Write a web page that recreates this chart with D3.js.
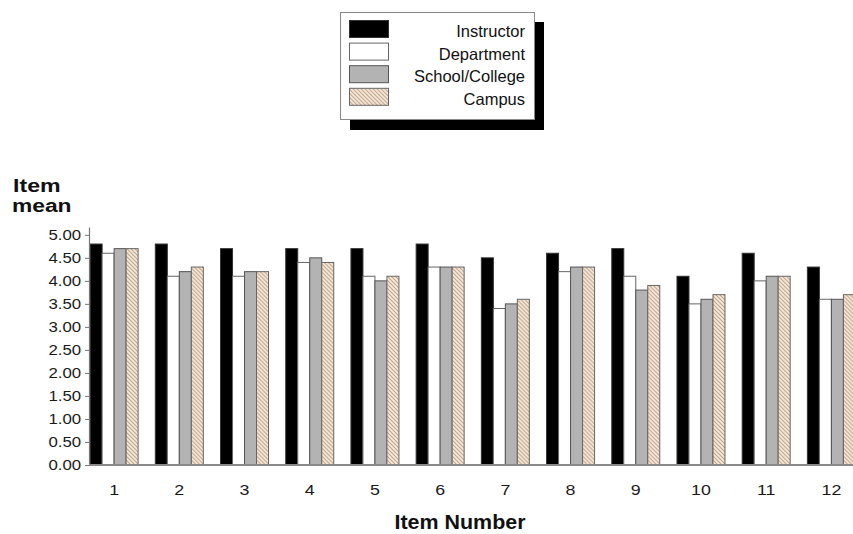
<!DOCTYPE html>
<html>
<head>
<meta charset="utf-8">
<script src="https://cdn.jsdelivr.net/npm/d3@7"></script>
<style>
  html, body { margin: 0; padding: 0; background: #fff; }
  svg { display: block; font-family: "Liberation Sans", Arial, sans-serif; }
</style>
</head>
<body>
<svg id="chart" width="853" height="534"></svg>
<script>
// ---- data ----
const items = ["1","2","3","4","5","6","7","8","9","10","11","12"];
const seriesNames = ["Instructor","Department","School/College","Campus"];
const instructor = [4.8,4.8,4.7,4.7,4.7,4.8,4.5,4.6,4.7,4.1,4.6,4.3];
const department = [4.6,4.1,4.1,4.4,4.1,4.3,3.4,4.2,4.1,3.5,4.0,3.6];
const school     = [4.7,4.2,4.2,4.5,4.0,4.3,3.5,4.3,3.8,3.6,4.1,3.6];
const campus     = [4.7,4.3,4.2,4.4,4.1,4.3,3.6,4.3,3.9,3.7,4.1,3.7];
const yTicks = [0,0.5,1,1.5,2,2.5,3,3.5,4,4.5,5];
const yTitle = ["Item","mean"];
const xTitle = "Item Number";

const seriesValues = [instructor, department, school, campus];

const svg = d3.select("#chart");
const W = 853;

// patterns
const defs = svg.append("defs");
const pat = defs.append("pattern").attr("id","hatch").attr("patternUnits","userSpaceOnUse")
  .attr("width",4).attr("height",4);
pat.append("rect").attr("width",4).attr("height",4).attr("fill","#f5ede2");
pat.append("path").attr("d","M-1,-1 L5,5 M-1,3 L1,5 M3,-1 L5,1")
  .attr("stroke","#c4a080").attr("stroke-width",1.1);

const fills = ["#000000","#ffffff","#b3b3b3","url(#hatch)"];
const strokes = ["#333333","#666666","#555555","#666666"];

// scales
const axisX = 89;
const y = d3.scaleLinear().domain([0, 5.17]).range([465, 227]);
const x0 = d3.scaleBand().domain(items).range([81.5, 864]).paddingInner(0.264).paddingOuter(0.132);
const x1 = d3.scaleBand().domain(seriesNames).range([0, x0.bandwidth()]).padding(0);

// bars
const groups = svg.append("g").selectAll("g").data(items).join("g")
  .attr("transform", d => `translate(${x0(d)},0)`);
groups.selectAll("rect")
  .data((d, i) => seriesNames.map((s, k) => ({s, k, v: seriesValues[k][i]})))
  .join("rect")
  .attr("x", d => x1(d.s))
  .attr("y", d => y(d.v))
  .attr("width", x1.bandwidth())
  .attr("height", d => y(0) - y(d.v))
  .attr("fill", d => fills[d.k])
  .attr("stroke", d => strokes[d.k])
  .attr("stroke-width", 1);

// y axis
const yAxis = svg.append("g").attr("transform", `translate(${axisX},0)`)
  .call(d3.axisLeft(y).tickValues(yTicks).tickFormat(d3.format(".2f")).tickSize(4).tickSizeOuter(0));
yAxis.select(".domain").attr("stroke","#777").attr("stroke-width",1.2);
yAxis.selectAll(".tick line").attr("stroke","#777");
yAxis.selectAll(".tick text")
  .attr("font-size", 14).attr("font-family","Liberation Sans, Arial, sans-serif")
  .attr("fill","#1a1a1a")
  .attr("x", -6.5)
  .attr("transform","scale(1.2,1)");

// x axis baseline
svg.append("line").attr("x1", axisX).attr("x2", W).attr("y1", y(0)).attr("y2", y(0))
  .attr("stroke","#8a8a8a").attr("stroke-width",2);

// x axis labels
const xAxis = svg.append("g").attr("transform", `translate(0,${y(0)})`)
  .call(d3.axisBottom(x0).tickSize(0).tickPadding(0));
xAxis.select(".domain").remove();
xAxis.selectAll(".tick text").remove();
xAxis.selectAll(".tick").append("text")
  .attr("y", 30).attr("text-anchor","middle")
  .attr("font-size", 15.5).attr("fill","#1a1a1a")
  .attr("transform","scale(1.15,1)")
  .text(d => d);

// titles
function stretchedText(txt, cx, cy, size, sx, anchor, weight) {
  svg.append("text")
    .attr("transform", `translate(${cx},${cy}) scale(${sx},1)`)
    .attr("text-anchor", anchor)
    .attr("font-size", size)
    .attr("font-weight", weight)
    .attr("fill", "#111")
    .text(txt);
}
stretchedText(yTitle[0], 13, 192, 19, 1.22, "start", "bold");
stretchedText(yTitle[1], 12, 212, 19, 1.2, "start", "bold");
stretchedText(xTitle, 460, 529, 19.5, 1.1, "middle", "bold");

// legend
const lg = svg.append("g");
lg.append("rect").attr("x", 350).attr("y", 22).attr("width", 194).attr("height", 108).attr("fill","#000");
lg.append("rect").attr("x", 340.5).attr("y", 12.5).attr("width", 194).attr("height", 107)
  .attr("fill","#fff").attr("stroke","#888").attr("stroke-width",1);
const rows = lg.selectAll("g.row").data(seriesNames).join("g").attr("class","row")
  .attr("transform", (d, i) => `translate(0,${i * 22.6})`);
rows.append("rect").attr("x", 349.5).attr("y", 20.5).attr("width", 39).attr("height", 17)
  .attr("fill", (d, i) => fills[i]).attr("stroke", (d, i) => strokes[i]).attr("stroke-width", 1);
rows.append("text").attr("x", 525).attr("y", 37).attr("text-anchor","end")
  .attr("font-size", 16.5).attr("fill","#111").text(d => d);
</script>
</body>
</html>
